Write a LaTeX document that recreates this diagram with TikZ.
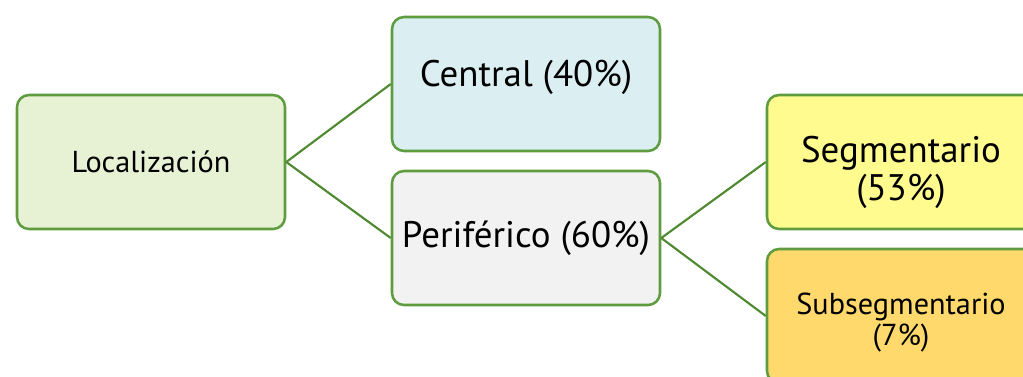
\documentclass[tikz,border=0pt]{standalone}
\usepackage{fontspec}
\setmainfont{PT Sans}
\usetikzlibrary{positioning}

\definecolor{boxline}{HTML}{5E9C3F}
\definecolor{linkline}{HTML}{4F8A31}
\definecolor{locfill}{HTML}{E7F1D4}
\definecolor{cenfill}{HTML}{DBEFF3}
\definecolor{perfill}{HTML}{F2F2F2}
\definecolor{segfill}{HTML}{FFFB8F}
\definecolor{subfill}{HTML}{FFD96B}

\newcommand{\bigtxt}{\fontsize{27.7}{28}\selectfont}
\newcommand{\smalltxt}{\fontsize{22.7}{23}\selectfont}
% shift text inside its box, keeping the box size
\newcommand{\shifttxt}[2]{\raisebox{#1}[\height][\depth]{#2}}
\newcommand{\twolines}[3]{\shifttxt{#1}{\begin{tabular}{@{}c@{}}#2\\#3\end{tabular}}}

\begin{document}
\begin{tikzpicture}[x=0.75pt,y=-0.75pt,
    box/.style={draw=boxline, line width=1.9pt, rounded corners=9pt,
        minimum width=201pt, minimum height=100.5pt, align=center, inner sep=0pt},
    link/.style={draw=linkline, line width=1.6pt}]
    \useasboundingbox (0,0) rectangle (1023,376);
    \clip (0,0) rectangle (1023,376);

    % Root
    \node[box, fill=locfill, font=\smalltxt] (loc) at (151,162) {Localización};

    % First level
    \node[box, fill=cenfill, font=\bigtxt] (central) at (526,84) {\shifttxt{5pt}{Central (40\%)}};
    \node[box, fill=perfill, font=\bigtxt] (perif) at (526,238) {Periférico (60\%)};

    % Second level
    \node[box, fill=segfill, font=\bigtxt] (segm) at (901,162) {\twolines{-9pt}{Segmentario}{(53\%)}};
    \node[box, fill=subfill, font=\smalltxt] (subsegm) at (901,316) {\twolines{-6pt}{Subsegmentario}{(7\%)}};

    % Connectors
    \draw[link] (loc.east) -- (central.west);
    \draw[link] (loc.east) -- (perif.west);
    \draw[link] (perif.east) -- (segm.west);
    \draw[link] (perif.east) -- (subsegm.west);
\end{tikzpicture}
\end{document}
